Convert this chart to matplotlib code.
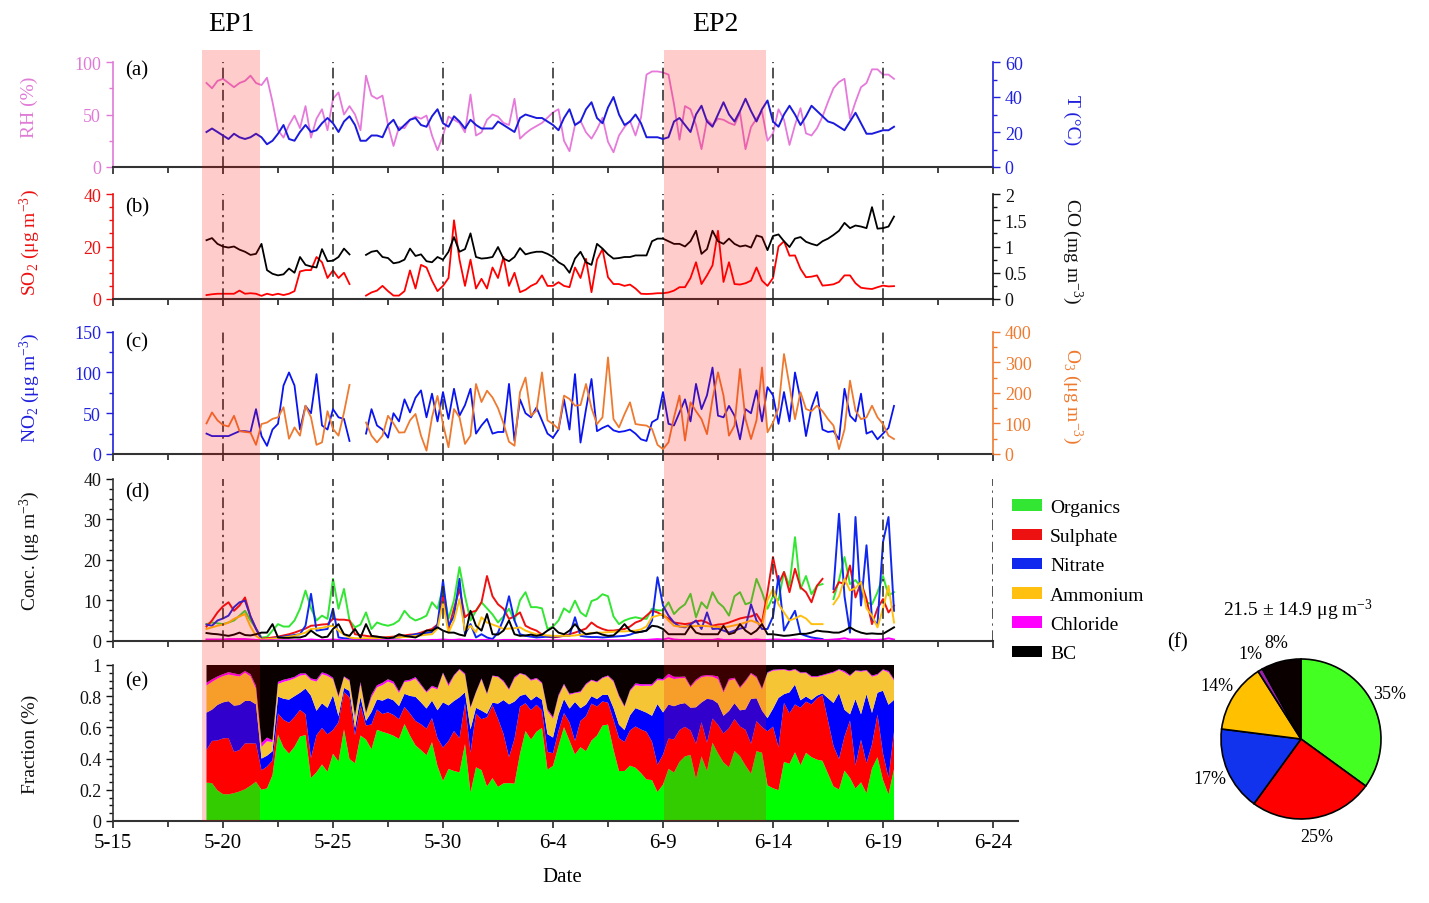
import numpy as np
import matplotlib
matplotlib.use('Agg')
import matplotlib.pyplot as plt
from matplotlib.patches import Patch
from matplotlib.ticker import MultipleLocator, FuncFormatter

plt.rcParams['font.family'] = ['Liberation Serif', 'DejaVu Serif']
plt.rcParams['mathtext.fontset'] = 'custom'
plt.rcParams['mathtext.rm'] = 'Liberation Serif'
plt.rcParams['mathtext.it'] = 'Liberation Serif:italic'

nan = np.nan

# x axis: days after 5-15, data every 6 h starting 5-19 06:00
date_labels = ['5-15', '5-20', '5-25', '5-30', '6-4', '6-9', '6-14', '6-19', '6-24']
t_start = 4.25
t_step = 0.25
ep_names = ['EP1', 'EP2']
ep_spans = [(4.05, 6.68), (25.05, 29.7)]

# (a) meteorology
rh = [80, 75, 82, 84, 80, 76, 80, 82, 87, 80, 78, 85, 62, 35, 28, 40, 49, 37, 58,
      28, 46, 55, 35, 65, 71, 50, 58, 50, 35, 87, 68, 65, 68, 40, 20, 38, 37, 45, 48,
      46, 49, 30, 16, 30, 48, 45, 42, 33, 69, 30, 33, 45, 50, 48, 42, 40, 65, 27, 32,
      36, 39, 42, 47, 52, 55, 25, 15, 40, 44, 33, 27, 36, 47, 24, 14, 30, 38, 44, 30,
      47, 88, 91, 91, 90, 88, 60, 26, 58, 55, 40, 17, 45, 40, 46, 45, 42, 40, 52, 17,
      38, 46, 53, 25, 32, 55, 45, 21, 40, 56, 32, 30, 37, 48, 62, 75, 81, 84, 46, 62,
      76, 80, 93, 93, 88, 88, 84]
temp = [20, 22, 20, 18, 16, 19, 17, 16, 17, 19, 17, 13, 15, 19, 24, 16, 15, 20, 24,
        20, 21, 25, 28, 25, 20, 26, 29, 24, 15, 15, 18, 18, 17, 24, 27, 21, 24, 27, 28,
        24, 23, 29, 33, 25, 23, 29, 26, 22, 27, 24, 22, 22, 22, 26, 24, 22, 20, 28, 30,
        29, 28, 28, 26, 24, 21, 28, 33, 24, 26, 33, 37, 28, 25, 34, 40, 30, 24, 26, 30,
        25, 17, 17, 17, 16, 17, 26, 28, 24, 20, 30, 35, 26, 23, 30, 37, 30, 26, 32, 39,
        32, 26, 33, 38, 26, 23, 30, 35, 30, 24, 29, 35, 32, 29, 26, 25, 23, 21, 26, 31,
        25, 19, 19, 20, 21, 21, 23]

# (b) SO2 and CO
so2 = [1.5, 1.8, 2, 2, 2, 2, 3.2, 2, 2.2, 2, 1.2, 2, 1.5, 2, 1.5, 2, 3, 10.5, 11,
       11, 16, 14, 8, 10.9, 8, 10, 5.7, nan, nan, 1.3, 2.5, 3.2, 5, 3, 1.3, 1.3, 3, 10.9, 4,
       13, 12, 7, 3, 5, 8, 30, 15, 5, 15, 4, 7.7, 4, 12, 8, 16, 5, 10, 2.6, 3.5,
       5, 6, 9, 5, 5, 6.4, 5, 4.5, 12, 8, 15.3, 2.6, 15, 19, 8.3, 5.7, 5.7, 5, 5.5, 4,
       2, 1.9, 2, 2.2, 2.2, 2.5, 3.2, 4.5, 4.5, 8, 14, 5.7, 9, 12.8, 26, 6.5, 14, 5.7, 5.5, 6,
       7, 12, 7, 5, 8, 20, 22, 16.5, 16.6, 11.5, 8.3, 8.5, 9, 5.1, 5.3, 5.6, 6.5, 9, 9, 6,
       4.3, 4, 3.8, 4.5, 5.1, 4.8, 4.9]
co = [1.12, 1.16, 1.05, 1.0, 0.98, 1.0, 0.94, 0.9, 0.84, 0.86, 1.05, 0.55, 0.48, 0.45, 0.47, 0.58, 0.5, 0.8, 0.65,
      0.62, 0.6, 0.95, 0.72, 0.73, 0.8, 0.96, 0.85, nan, nan, 0.84, 0.9, 0.92, 0.8, 0.78, 0.68, 0.7, 0.75, 0.96, 0.82,
      0.85, 0.72, 0.7, 0.8, 0.75, 0.9, 1.18, 0.9, 0.95, 1.25, 0.8, 0.77, 0.78, 0.8, 0.99, 0.77, 0.72, 0.8, 0.97, 0.85,
      0.88, 0.9, 0.9, 0.86, 0.8, 0.7, 0.64, 0.5, 0.77, 0.9, 0.7, 0.65, 1.05, 0.96, 0.85, 0.77, 0.78, 0.8, 0.8, 0.83,
      0.83, 0.83, 1.1, 1.15, 1.15, 1.1, 1.05, 1.05, 1.0, 1.1, 1.3, 0.86, 0.95, 1.3, 1.1, 1.05, 1.15, 1.05, 1.0, 1.02,
      0.98, 1.21, 1.18, 0.93, 1.2, 1.23, 1.1, 0.99, 1.15, 1.18, 1.09, 1.05, 1.02, 1.1, 1.15, 1.22, 1.3, 1.45, 1.35, 1.4,
      1.38, 1.35, 1.75, 1.34, 1.35, 1.38, 1.57]

# (c) NO2 and O3
no2 = [25, 22, 22, 22, 22, 25, 28, 28, 27, 55, 22, 10, 30, 37, 84, 100, 84, 30, 59,
       50, 98, 35, 30, 55, 45, 43, 16, nan, nan, 25, 55, 35, 30, 20, 50, 40, 67, 51, 69,
       78, 45, 74, 40, 76, 43, 80, 47, 60, 80, 25, 35, 43, 25, 27, 27, 86, 16, 67, 50,
       45, 57, 41, 25, 20, 30, 67, 30, 98, 14, 55, 92, 28, 32, 35, 29, 27, 28, 30, 25,
       18, 16, 39, 43, 76, 37, 35, 51, 67, 40, 86, 55, 72, 106, 47, 45, 59, 47, 18, 55,
       50, 78, 40, 82, 72, 37, 76, 40, 100, 67, 22, 57, 76, 30, 27, 28, 18, 80, 47, 40,
       74, 25, 28, 18, 25, 32, 59]
o3 = [100, 136, 110, 95, 90, 125, 75, 72, 70, 30, 98, 103, 115, 120, 153, 50, 87, 60, 158,
      120, 30, 38, 140, 82, 60, 136, 226, nan, nan, 103, 60, 38, 60, 125, 100, 70, 71, 110, 131,
      60, 11, 120, 190, 98, 22, 147, 120, 33, 60, 229, 170, 207, 185, 150, 100, 40, 27, 202, 250,
      125, 142, 267, 110, 98, 82, 191, 180, 158, 160, 229, 150, 98, 120, 316, 114, 87, 130, 169, 98,
      95, 93, 82, 30, 16, 38, 120, 191, 44, 169, 140, 114, 65, 180, 267, 191, 60, 93, 278, 114,
      49, 110, 283, 71, 103, 150, 327, 223, 114, 202, 147, 140, 158, 140, 114, 93, 16, 80, 240, 142,
      114, 120, 158, 120, 98, 60, 49]

# (d) PM1 species
organics = [4.1, 4.5, 4.3, 4.1, 4.5, 5, 6.2, 7.4, 5, 3, 0.8, 0.9, 2.5, 4.1, 3.5, 3.5, 5, 7.9, 12.4,
            8, 5, 6.2, 5.4, 15.3, 7.9, 12.8, 5, 3.3, 4, 7, 2.9, 4.5, 4, 3.7, 4.1, 5, 7.4, 5.8, 5,
            5.5, 6.2, 9.5, 7.9, 13.2, 5.4, 10, 18.2, 11, 5, 7.4, 9.5, 8, 6.5, 4.5, 6, 7.9, 5, 10, 12,
            8.3, 8.3, 8, 2.9, 3.5, 5, 8, 7, 9.9, 7, 6, 9.8, 10.3, 11.5, 11, 6, 4.1, 5, 5.5, 5.8,
            5.5, 5.4, 7.9, 7.5, 7.5, 9.5, 6.6, 8, 9, 11.6, 5.8, 9.5, 8, 12, 9.5, 8.3, 6.2, 11, 12, 9,
            9.5, 15.3, 12, 7.9, 11, 10, 17, 13.6, 25.6, 12.8, 16, 11.5, 13.6, 14, nan, 10.3, 15, 20.7, 14, 15,
            13.2, 9.5, 9, 12, 16, 11.2, 12]
sulphate = [3.5, 5, 7, 8.5, 9.5, 7.4, 8.7, 10.7, 6, 2.9, 0.5, 0.6, 0.8, 1, 1.3, 1.6, 2, 2.5, 3,
            3.7, 3.8, 4, 4.1, 5.4, 5.2, 5.2, 5, 1.6, 1.4, 1.2, 1, 1, 0.8, 0.9, 1, 1.2, 1.3, 1.5, 1.6,
            2, 2.5, 2.9, 4, 11, 2.9, 8, 12.8, 5.8, 7, 7.4, 9.5, 16, 11, 9, 7.9, 5.4, 6, 7, 3.7,
            3, 2.5, 1.5, 1, 0.8, 1, 1.2, 1.6, 2, 2.5, 3, 4.5, 3.5, 2.9, 2.5, 2.5, 2.7, 2.9, 3.5, 4.5,
            5, 6.2, 7.4, 7, 6.2, 5.5, 4.5, 4.3, 4.1, 4.3, 4.8, 5, 4.5, 3.7, 4, 4.1, 4.5, 5, 5.5, 5.8,
            6, 6.6, 4.5, 12, 20.7, 14, 17, 12, 17.8, 13.2, 12, 9.5, 13.6, 15.3, nan, 12, 14.5, 14, 18.6, 10.7,
            14.5, 10.3, 4.1, 8, 10.3, 7, 8.7]
nitrate = [4, 3.7, 5, 5.5, 6.2, 8.3, 9.5, 9.9, 6, 3, 0.3, 0.3, 0.5, 0.8, 1, 1.2, 1.4, 1.6, 3.7,
           11.6, 2.5, 2.7, 2.9, 7.9, 0.8, 0.6, 0.5, 0.4, 0.4, 0.4, 0.5, 0.5, 0.6, 0.6, 0.7, 0.8, 1, 1.2, 1.6,
           1.7, 1.9, 2.1, 4, 14.9, 3.7, 6, 15.3, 1.6, 4.1, 0.8, 1.6, 0.8, 0.4, 2, 5.4, 11, 5, 1.6, 1.2,
           1, 0.8, 0.9, 1, 1, 1.1, 1.2, 1.2, 5.8, 1.2, 1, 0.9, 0.9, 0.8, 0.9, 1, 1.1, 1.2, 1.5, 2,
           2.2, 2.5, 5, 15.7, 8.7, 6.2, 4.5, 3.5, 3.3, 4, 5, 2.9, 7, 2.9, 3, 2.5, 2, 2.5, 3, 3.3,
           9, 5, 2.9, 2.9, 6, 16, 2.5, 5, 7.4, 1.7, 1.2, 0.8, 0.6, 0.4, nan, 12.8, 31.4, 11, 2, 30.6,
           8.7, 23.6, 5.4, 4.1, 24.4, 30.6, 7.4]
ammonium = [2.9, 3.3, 3.7, 4, 4.5, 5.4, 6, 6.6, 3.5, 1.2, 0.3, 0.4, 0.5, 0.6, 0.8, 1, 1.2, 1.6, 2,
            2.9, 3, 3.2, 3.5, 3.7, 2.5, 1.5, 0.8, 0.6, 0.6, 0.6, 0.6, 0.6, 0.7, 0.7, 0.8, 0.8, 0.9, 1, 1.2,
            1.3, 1.5, 1.6, 3, 9.5, 2, 5, 10.3, 2.5, 3.7, 2.1, 5.8, 4.5, 4, 3.5, 2.9, 3, 3.1, 3.3, 2.5,
            2, 1.6, 1.4, 1.3, 1.2, 1.2, 1.2, 1.2, 1.3, 1.5, 1.7, 1.9, 2, 2, 2.1, 2.2, 2.3, 2.3, 2.4, 2.5,
            2.8, 3.5, 5.8, 6.2, 6.6, 5, 3.7, 3.5, 3.5, 3.6, 3.6, 3.7, 3.6, 3.5, 3.4, 3.3, 3.5, 3.8, 4.1, 4.5,
            5, 4.5, 3.7, 10, 12.8, 9, 7, 5, 5.5, 6.2, 5.5, 4.1, 4.1, 4.1, nan, 9, 11, 15.3, 12.4, 13,
            14.5, 8, 6.2, 3.3, 8, 13.6, 4.5]
chloride = [0.3, 0.3, 0.3, 0.3, 0.4, 0.4, 0.4, 0.4, 0.3, 0.2, 0.1, 0.1, 0.1, 0.1, 0.1, 0.1, 0.1, 0.2, 0.2,
            0.3, 0.2, 0.2, 0.2, 0.3, 0.2, 0.1, 0.1, 0.1, 0.1, 0.1, 0.1, 0.1, 0.1, 0.1, 0.1, 0.1, 0.1, 0.1, 0.1,
            0.1, 0.1, 0.2, 0.2, 0.3, 0.2, 0.2, 0.3, 0.2, 0.2, 0.1, 0.2, 0.2, 0.1, 0.1, 0.2, 0.2, 0.2, 0.1, 0.1,
            0.1, 0.1, 0.1, 0.1, 0.1, 0.1, 0.1, 0.1, 0.1, 0.1, 0.1, 0.1, 0.1, 0.1, 0.1, 0.1, 0.1, 0.1, 0.1, 0.2,
            0.2, 0.2, 0.3, 0.4, 0.3, 0.6, 0.3, 0.2, 0.2, 0.2, 0.2, 0.2, 0.2, 0.2, 0.4, 0.2, 0.2, 0.2, 0.2, 0.2,
            0.2, 0.3, 0.2, 0.2, 0.3, 0.3, 0.2, 0.2, 0.3, 0.2, 0.2, 0.2, 0.2, 0.2, 0.2, 0.3, 0.4, 0.6, 0.3, 0.3,
            0.3, 0.3, 0.2, 0.2, 0.3, 0.6, 0.3]
bc = [1.9, 1.7, 1.6, 1.4, 1.2, 1.5, 2, 1.4, 1.3, 1.6, 2, 2, 4.1, 0.8, 0.7, 0.7, 0.8, 0.8, 1.2,
      2.5, 1.5, 0.8, 1, 2.9, 4.1, 1.6, 1.2, 2.9, 0.8, 4.1, 1.2, 1, 0.8, 0.6, 0.8, 1.6, 1.2, 1, 0.8,
      1.5, 2.5, 2.5, 3.3, 2.5, 2, 2, 1.5, 1.2, 7.4, 3.7, 2.5, 6.6, 1.6, 1.5, 2.5, 5, 1.6, 1.2, 1.3,
      1.5, 1.2, 1.5, 2.5, 3.3, 2, 1.6, 2.5, 4.1, 2.5, 1.6, 1.8, 2, 1.5, 1.2, 1.3, 2.5, 4.1, 2.5, 2,
      2.2, 2.5, 3.7, 3.5, 2.9, 1.6, 1.6, 1.6, 1.6, 3.7, 2, 1.6, 1.6, 1.6, 1.6, 3.7, 1.6, 2, 4.1, 2.5,
      1.6, 2.5, 4.1, 1.6, 1.6, 1.4, 1.2, 1.3, 1.5, 1.7, 1.7, 2, 2.5, 2.3, 2.2, 2, 2, 2.5, 3.3, 2.5,
      2, 1.7, 1.8, 1.7, 1.7, 2.5, 3.3]

species_names = ['Organics', 'Sulphate', 'Nitrate', 'Ammonium', 'Chloride', 'BC']
pie_pct = [35, 25, 17, 14, 1, 8]
pie_title = '21.5 ± 14.9 μg m$^{-3}$'

line_cols = ['#33e633', '#ee1111', '#1028ee', '#ffc010', '#ff00ff', '#000000']
stack_cols = ['#00ff00', '#ff0000', '#0000ff', '#f5c535', '#ff00ff', '#0a0000']
pie_cols = ['#44ff22', '#ff0000', '#1133ee', '#ffc000', '#9922aa', '#0a0000']

series = [rh, temp, so2, co, no2, o3, organics, sulphate, nitrate, ammonium, chloride, bc]
for s in series:
    assert len(s) == 126, len(s)
t = t_start + t_step * np.arange(len(rh))

W, H = 1429, 904


def box(x0, y_top, x1, y_bot):
    return [x0 / W, 1 - y_bot / H, (x1 - x0) / W, (y_bot - y_top) / H]


fmt = FuncFormatter(lambda v, p: f'{v:g}')


def style_x(ax, right_end=40, labels=False):
    ax.set_xlim(0, right_end)
    ax.set_xticks(np.arange(0, 41, 5))
    ax.xaxis.set_minor_locator(MultipleLocator(2.5))
    ax.tick_params(axis='x', which='both', direction='out', length=5, width=1.2, color='#222222')
    ax.tick_params(axis='x', which='minor', length=4)
    if labels:
        ax.set_xticklabels(date_labels, fontsize=15)
    else:
        ax.tick_params(axis='x', labelbottom=False)
    ax.spines['bottom'].set_linewidth(1.5)
    ax.spines['bottom'].set_color('#333333')
    ax.spines['top'].set_visible(False)


def style_y(ax, side, color, lo, hi, major, minor):
    ax.set_ylim(lo, hi)
    ax.yaxis.set_major_locator(MultipleLocator(major))
    ax.yaxis.set_minor_locator(MultipleLocator(minor))
    ax.yaxis.set_major_formatter(fmt)
    ax.spines[side].set_color(color)
    ax.spines[side].set_linewidth(1.2)
    ax.spines['left' if side == 'right' else 'right'].set_visible(False)
    ax.spines['top'].set_visible(False)
    ax.tick_params(axis='y', which='both', colors=color, direction='out', width=1)
    ax.tick_params(axis='y', which='major', length=5, labelsize=13)
    ax.tick_params(axis='y', which='minor', length=3)


def ylab(ax, text, color, xpix, axw=880, right=False, yc=0.5):
    ax.set_ylabel(text, color=color, fontsize=14, rotation=-90 if right else 90,
                  va='center', ha='center')
    ax.yaxis.set_label_coords((xpix - 113) / axw, yc)


def dash_lines(ax, lo, hi, days):
    ax.vlines(days, lo, hi, colors='#222222', linestyles=(0, (7, 3, 1.5, 3)),
              linewidth=1.1, zorder=3)


def panel_tag(ax, text, dy):
    ax.annotate(text, xy=(0, 1), xycoords='axes fraction', xytext=(12, -dy),
                textcoords='offset pixels', ha='left', va='center', fontsize=15)


fig = plt.figure(figsize=(W / 100, H / 100), dpi=100)
dash_days = [5, 10, 15, 20, 25, 30, 35]

# (a)
ax_a = fig.add_axes(box(113, 63, 993, 168))
tw_a = ax_a.twinx()
style_x(ax_a)
style_y(ax_a, 'left', '#e07ad6', 0, 100, 50, 25)
style_y(tw_a, 'right', '#2020dd', 0, 60, 20, 10)
tw_a.spines['bottom'].set_visible(False)
ax_a.plot(t, rh, color='#e67ada', lw=1.3)
tw_a.plot(t, temp, color='#1a1add', lw=1.4)
dash_lines(ax_a, 0, 100, dash_days)
ylab(ax_a, 'RH (%)', '#e07ad6', 29, yc=0.58)
ylab(tw_a, 'T (°C)', '#2020dd', 1072, right=True, yc=0.46)
panel_tag(ax_a, '(a)', 8)

# (b)
ax_b = fig.add_axes(box(113, 195, 993, 300))
tw_b = ax_b.twinx()
style_x(ax_b)
style_y(ax_b, 'left', '#ee1111', 0, 40, 20, 5)
style_y(tw_b, 'right', '#111111', 0, 2, 0.5, 0.25)
tw_b.spines['bottom'].set_visible(False)
ax_b.plot(t, so2, color='#ff0000', lw=1.3)
tw_b.plot(t, co, color='#000000', lw=1.3)
dash_lines(ax_b, 0, 40, dash_days)
ylab(ax_b, 'SO$_2$ (μg m$^{-3}$)', '#ee1111', 30, yc=0.55)
ylab(tw_b, 'CO (mg m$^{-3}$)', '#111111', 1072, right=True, yc=0.47)
panel_tag(ax_b, '(b)', 13)

# (c)
ax_c = fig.add_axes(box(113, 332.7, 993, 455))
tw_c = ax_c.twinx()
style_x(ax_c)
style_y(ax_c, 'left', '#2020dd', 0, 150, 50, 25)
style_y(tw_c, 'right', '#ee7a30', 0, 400, 100, 50)
tw_c.spines['bottom'].set_visible(False)
ax_c.plot(t, no2, color='#0a14ee', lw=1.3, zorder=4)
tw_c.plot(t, o3, color='#ee7a30', lw=1.3)
dash_lines(ax_c, 0, 150, dash_days)
ylab(ax_c, 'NO$_2$ (μg m$^{-3}$)', '#2020dd', 30, yc=0.55)
ylab(tw_c, 'O$_3$ (μg m$^{-3}$)', '#ee7a30', 1072, right=True, yc=0.48)
panel_tag(ax_c, '(c)', 10)

# (d)
ax_d = fig.add_axes(box(113, 480, 993, 641.7))
style_x(ax_d)
style_y(ax_d, 'left', '#111111', 0, 40, 10, 2.5)
ax_d.spines['left'].set_color('#333333')
d_series = [organics, sulphate, nitrate, ammonium, chloride, bc]
for k in [0, 1, 2, 3, 5, 4]:
    ax_d.plot(t, d_series[k], color=line_cols[k], lw=1.4)
dash_lines(ax_d, 0, 40, dash_days + [40])
ylab(ax_d, 'Conc. (μg m$^{-3}$)', '#111111', 30, yc=0.56)
panel_tag(ax_d, '(d)', 13)

handles = [Patch(facecolor=c, edgecolor='none') for c in line_cols]
fig.legend(handles, species_names, loc='upper left', bbox_to_anchor=(1012 / W, 1 - 500 / H),
           frameon=False, fontsize=14, handlelength=1.55, handleheight=0.55,
           handletextpad=0.4, labelspacing=0.63, borderpad=0, borderaxespad=0)

# (e) mass fractions from the species in (d); missing samples are skipped
ax_e = fig.add_axes(box(113, 666, 1018, 822))
style_x(ax_e, right_end=40 + 25 / 22, labels=True)
style_y(ax_e, 'left', '#111111', 0, 1, 0.2, 0.05)
ax_e.spines['left'].set_color('#333333')
stack = np.vstack(d_series)
ok = ~np.isnan(stack).any(axis=0)
frac = stack[:, ok] / stack[:, ok].sum(axis=0)
ax_e.stackplot(t[ok], frac, colors=stack_cols, linewidth=0)
ylab(ax_e, 'Fraction (%)', '#111111', 30, axw=905, yc=0.5)
panel_tag(ax_e, '(e)', 16)
fig.text(562 / W, 1 - 878 / H, 'Date', ha='center', va='center', fontsize=15)

# episode shading over all panels
ov = fig.add_axes(box(113, 51, 993, 822), zorder=10)
ov.set_xlim(0, 40)
ov.set_ylim(0, 1)
ov.axis('off')
for name, (s0, s1) in zip(ep_names, ep_spans):
    ov.axvspan(s0, s1, color='#ff0000', alpha=0.2, lw=0)
    ov.text((s0 + s1) / 2, 1.035, name, ha='center', va='center', fontsize=20)

# (f) pie
ax_f = fig.add_axes(box(1301 - 100, 740 - 100, 1301 + 100, 740 + 100))
ax_f.pie(pie_pct, colors=pie_cols, startangle=90, counterclock=False,
         autopct='%.0f%%', pctdistance=1.24,
         wedgeprops=dict(edgecolor='black', linewidth=1.2),
         textprops=dict(fontsize=13))
fig.text(1298 / W, 1 - 610 / H, pie_title, ha='center', va='center', fontsize=14)
fig.text(1177 / W, 1 - 643 / H, '(f)', ha='center', va='center', fontsize=15)

fig.savefig('out.png', dpi=100, facecolor='white')
